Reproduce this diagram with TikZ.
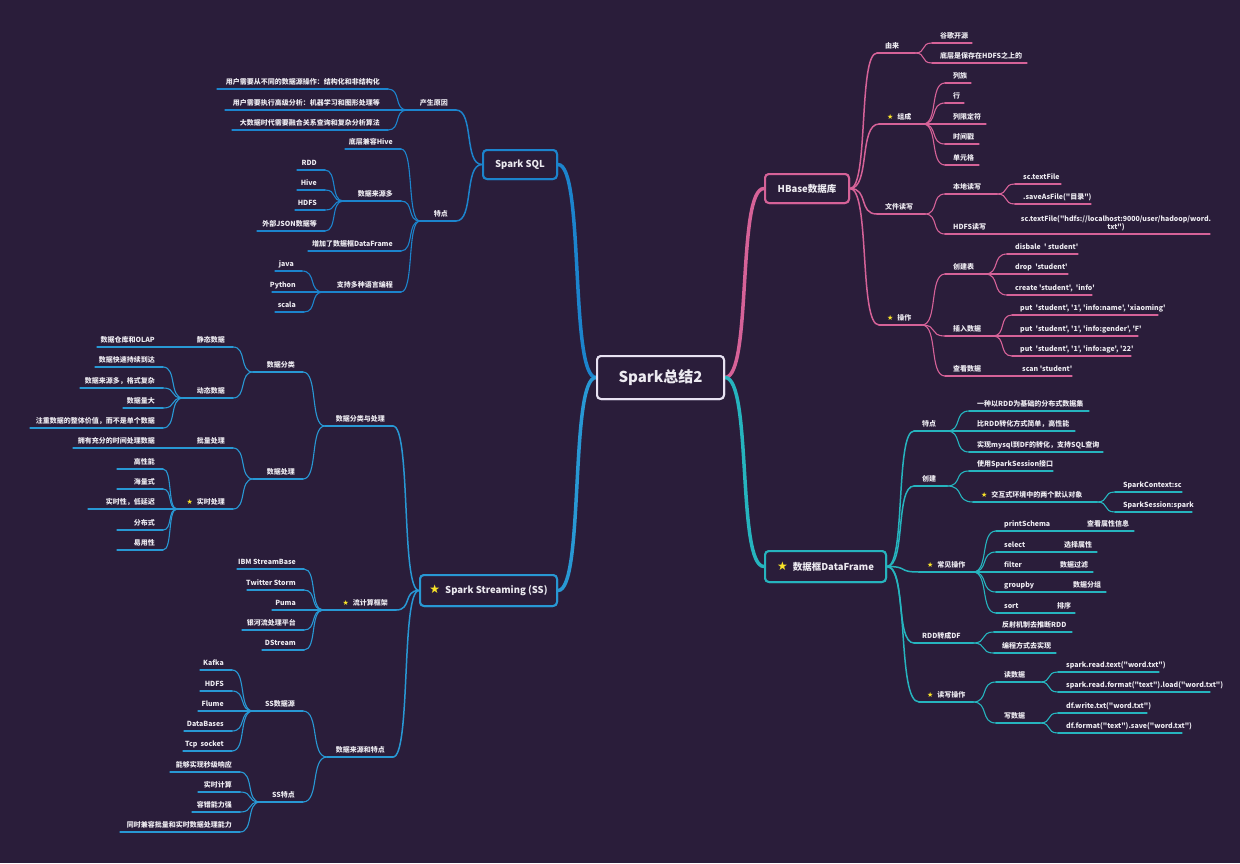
\documentclass[tikz,border=0pt]{standalone}
\usepackage{fontspec}
\setmainfont{Noto Sans CJK SC}[Ligatures=TeXOff]
\newfontfamily\symf{DejaVu Sans}
\usetikzlibrary{calc}
\definecolor{bg}{RGB}{42,29,58}
\definecolor{txt}{RGB}{236,234,240}
\definecolor{hbc}{RGB}{214,98,152}
\definecolor{sqlc}{RGB}{28,132,205}
\definecolor{ssc}{RGB}{40,152,212}
\definecolor{dfc}{RGB}{38,180,190}
\definecolor{rootc}{RGB}{232,226,242}
\definecolor{sy}{RGB}{250,228,40}
\newcommand\ystar{{\symf\textcolor{sy}{★}}\hspace{4pt}}
\newcommand\bstar{{\symf\fontsize{12}{12}\selectfont\textcolor{sy}{★}}\hspace{5pt}}
\newcommand\RT[6]{\coordinate (#1-a) at (#3,#2);\coordinate (#1-b) at (#4,#2);\draw[#5] (#1-a)--(#1-b);\node[lbl,anchor=base west] (#1) at (#3+8,#2-4.5) {#6};}
\newcommand\LT[6]{\coordinate (#1-a) at (#3,#2);\coordinate (#1-b) at (#4,#2);\draw[#5] (#1-a)--(#1-b);\node[lbl,anchor=base east] (#1) at (#4-8,#2-4.5) {#6};}
\newcommand\cn[3]{\draw[#3] (#1) to[hc] (#2);}
\tikzset{
 lbl/.style={text=txt,font=\fontsize{7}{8.5}\selectfont\bfseries,inner sep=0pt},
 hc/.style={to path={let \p1=(\tikztostart),\p2=(\tikztotarget) in .. controls (0.3*\x1+0.7*\x2,\y1) and (0.7*\x1+0.3*\x2,\y2) .. (\tikztotarget)}},
 l0/.style={line width=3.5pt,line cap=round},
 l1/.style={line width=1.5pt,line cap=round},
 l2/.style={line width=1.1pt,line cap=round},
 hb/.style={draw=hbc},
 sq/.style={draw=sqlc},
 ss/.style={draw=ssc},
 df/.style={draw=dfc},
 box/.style={line width=2pt,rounded corners=4pt,fill=bg,text=txt,inner sep=0pt,font=\fontsize{9.5}{11}\selectfont\bfseries},
}
\begin{document}
\begin{tikzpicture}[x=1pt,y=-1pt]
\fill[bg] (0,0) rectangle (1240,863);
\useasboundingbox (0,0) rectangle (1240,863);
% ---- main nodes (placed first for names, drawn over later)
\path (660.5,377.5) node[box,draw=rootc,minimum width=127pt,minimum height=43pt,font=\fontsize{15}{17}\selectfont\bfseries] (root) {Spark总结2};
\path (807,188.5) node[box,draw=hbc,minimum width=84pt,minimum height=29pt] (hbase) {HBase数据库};
\path (520,164.5) node[box,draw=sqlc,minimum width=74pt,minimum height=29pt] (sql) {Spark SQL};
\path (825.5,566.5) node[box,draw=dfc,minimum width=121pt,minimum height=31pt] (df) {\bstar 数据框DataFrame};
\path (488.5,590.5) node[box,draw=ssc,minimum width=137pt,minimum height=31pt] (ss) {\bstar Spark Streaming (SS)};
% ---- main connectors
\cn{root.west}{sql.east}{sq,l0}
\cn{root.west}{ss.east}{ss,l0}
\cn{root.east}{hbase.west}{hb,l0}
\cn{root.east}{df.west}{df,l0}
% ================= HBase
\RT{yl}{53}{877}{915}{hb,l1}{由来}
\RT{zc}{124}{879}{923}{hb,l1}{\ystar 组成}
\RT{wj}{214}{877}{925}{hb,l1}{文件读写}
\RT{cz}{325}{879}{922}{hb,l1}{\ystar 操作}
\cn{hbase.east}{yl-a}{hb,l1}\cn{hbase.east}{zc-a}{hb,l1}\cn{hbase.east}{wj-a}{hb,l1}\cn{hbase.east}{cz-a}{hb,l1}
\RT{yl1}{43}{932}{972}{hb,l2}{谷歌开源}
\RT{yl2}{63}{932}{1027}{hb,l2}{底层是保存在HDFS之上的}
\cn{yl-b}{yl1-a}{hb,l2}\cn{yl-b}{yl2-a}{hb,l2}
\RT{zc1}{83}{945}{971}{hb,l2}{列族}
\RT{zc2}{103}{945}{964}{hb,l2}{行}
\RT{zc3}{124}{945}{986}{hb,l2}{列限定符}
\RT{zc4}{144}{945}{979}{hb,l2}{时间戳}
\RT{zc5}{165}{945}{979}{hb,l2}{单元格}
\cn{zc-b}{zc1-a}{hb,l2}\cn{zc-b}{zc2-a}{hb,l2}\cn{zc-b}{zc3-a}{hb,l2}\cn{zc-b}{zc4-a}{hb,l2}\cn{zc-b}{zc5-a}{hb,l2}
\RT{wj1}{194}{945}{997}{hb,l2}{本地读写}
\RT{wj2}{234}{945}{1005}{hb,l2}{HDFS读写}
\cn{wj-b}{wj1-a}{hb,l2}\cn{wj-b}{wj2-a}{hb,l2}
\RT{wj11}{184}{1015}{1061}{hb,l2}{sc.textFile}
\RT{wj12}{204}{1015}{1091}{hb,l2}{.saveAsFile("目录")}
\cn{wj1-b}{wj11-a}{hb,l2}\cn{wj1-b}{wj12-a}{hb,l2}
\coordinate (wj21-a) at (1012,234);\coordinate (wj21-b) at (1210,234);
\draw[hb,l2] (wj21-a)--(wj21-b);
\node[lbl,align=center,anchor=south] (wj21) at (1116,231.5) {sc.textFile("hdfs://localhost:9000/user/hadoop/word.\\txt")};
\cn{wj2-b}{wj21-a}{hb,l2}
\RT{cz1}{274}{945}{985}{hb,l2}{创建表}
\RT{cz2}{336}{945}{993}{hb,l2}{插入数据}
\RT{cz3}{376}{945}{1005}{hb,l2}{查看数据}
\cn{cz-b}{cz1-a}{hb,l2}\cn{cz-b}{cz2-a}{hb,l2}\cn{cz-b}{cz3-a}{hb,l2}
\RT{cz11}{254}{1007}{1078}{hb,l2}{disbale\ \ ' student'}
\RT{cz12}{274}{1007}{1068}{hb,l2}{drop\ \ 'student'}
\RT{cz13}{295}{1007}{1092}{hb,l2}{create 'student',\ \ 'info'}
\cn{cz1-b}{cz11-a}{hb,l2}\cn{cz1-b}{cz12-a}{hb,l2}\cn{cz1-b}{cz13-a}{hb,l2}
\RT{cz21}{315}{1012}{1158}{hb,l2}{put\ \ 'student', '1', 'info:name', 'xiaoming'}
\RT{cz22}{336}{1012}{1138}{hb,l2}{put\ \ 'student', '1', 'info:gender', 'F'}
\RT{cz23}{356}{1012}{1131}{hb,l2}{put\ \ 'student', '1', 'info:age', '22'}
\cn{cz2-b}{cz21-a}{hb,l2}\cn{cz2-b}{cz22-a}{hb,l2}\cn{cz2-b}{cz23-a}{hb,l2}
\RT{cz31}{376}{1014}{1072}{hb,l2}{scan 'student'}
\cn{cz3-b}{cz31-a}{hb,l2}
% ================= DataFrame
\RT{tz}{431}{914}{947}{df,l1}{特点}
\RT{cj}{486}{914}{947}{df,l1}{创建}
\RT{cy}{572}{919}{973}{df,l1}{\ystar 常见操作}
\RT{rdd}{643}{914}{973}{df,l1}{RDD转成DF}
\RT{dx}{702}{919}{973}{df,l1}{\ystar 读写操作}
\cn{df.east}{tz-a}{df,l1}\cn{df.east}{cj-a}{df,l1}\cn{df.east}{cy-a}{df,l1}\cn{df.east}{rdd-a}{df,l1}\cn{df.east}{dx-a}{df,l1}
\RT{tz1}{411}{969}{1089}{df,l2}{一种以RDD为基础的分布式数据集}
\RT{tz2}{431}{969}{1075}{df,l2}{比RDD转化方式简单，高性能}
\RT{tz3}{452}{969}{1103}{df,l2}{实现mysql到DF的转化，支持SQL查询}
\cn{tz-b}{tz1-a}{df,l2}\cn{tz-b}{tz2-a}{df,l2}\cn{tz-b}{tz3-a}{df,l2}
\RT{cj1}{471}{969}{1053}{df,l2}{使用SparkSession接口}
\RT{cj2}{502}{973}{1097}{df,l2}{\ystar 交互式环境中的两个默认对象}
\cn{cj-b}{cj1-a}{df,l2}\cn{cj-b}{cj2-a}{df,l2}
\RT{cj21}{492}{1115}{1182}{df,l2}{SparkContext:sc}
\RT{cj22}{512}{1115}{1192}{df,l2}{SparkSession:spark}
\cn{cj2-b}{cj21-a}{df,l2}\cn{cj2-b}{cj22-a}{df,l2}
\RT{cy1}{531}{996}{1134}{df,l2}{printSchema}
\RT{cy2}{552}{996}{1097}{df,l2}{select}
\RT{cy3}{572}{996}{1093}{df,l2}{filter}
\RT{cy4}{592}{996}{1106}{df,l2}{groupby}
\RT{cy5}{613}{996}{1075}{df,l2}{sort}
\node[lbl,anchor=base west] (cy1x) at (1087,526.5) {查看属性信息};
\node[lbl,anchor=base west] (cy2x) at (1064,547.5) {选择属性};
\node[lbl,anchor=base west] (cy3x) at (1060,567.5) {数据过滤};
\node[lbl,anchor=base west] (cy4x) at (1073,587.5) {数据分组};
\node[lbl,anchor=base west] (cy5x) at (1057,608.5) {排序};
\cn{cy-b}{cy1-a}{df,l2}\cn{cy-b}{cy2-a}{df,l2}\cn{cy-b}{cy3-a}{df,l2}\cn{cy-b}{cy4-a}{df,l2}\cn{cy-b}{cy5-a}{df,l2}
\RT{rdd1}{632}{994}{1072}{df,l2}{反射机制去推断RDD}
\RT{rdd2}{653}{994}{1056}{df,l2}{编程方式去实现}
\cn{rdd-b}{rdd1-a}{df,l2}\cn{rdd-b}{rdd2-a}{df,l2}
\RT{dx1}{682}{996}{1040}{df,l2}{读数据}
\RT{dx2}{723}{996}{1040}{df,l2}{写数据}
\cn{dx-b}{dx1-a}{df,l2}\cn{dx-b}{dx2-a}{df,l2}
\RT{dx11}{672}{1058}{1159}{df,l2}{spark.read.text("word.txt")}
\RT{dx12}{692}{1058}{1210}{df,l2}{spark.read.format("text").load("word.txt")}
\cn{dx1-b}{dx11-a}{df,l2}\cn{dx1-b}{dx12-a}{df,l2}
\RT{dx21}{713}{1058}{1147}{df,l2}{df.write.txt("word.txt")}
\RT{dx22}{733}{1058}{1182}{df,l2}{df.format("text").save("word.txt")}
\cn{dx2-b}{dx21-a}{df,l2}\cn{dx2-b}{dx22-a}{df,l2}
% ================= Spark SQL
\LT{yy}{110}{407}{456}{sq,l1}{产生原因}
\LT{td}{221}{420}{456}{sq,l1}{特点}
\cn{sql.west}{yy-b}{sq,l1}\cn{sql.west}{td-b}{sq,l1}
\LT{yy1}{89}{217}{388}{sq,l2}{用户需要从不同的数据源操作：结构化和非结构化}
\LT{yy2}{110}{225}{388}{sq,l2}{用户需要执行高级分析：机器学习和图形处理等}
\LT{yy3}{130}{232}{388}{sq,l2}{大数据时代需要融合关系查询和复杂分析算法}
\cn{yy-a}{yy1-b}{sq,l2}\cn{yy-a}{yy2-b}{sq,l2}\cn{yy-a}{yy3-b}{sq,l2}
\LT{td1}{149}{345}{401}{sq,l2}{底层兼容Hive}
\LT{td2}{201}{343}{401}{sq,l2}{数据来源多}
\LT{td3}{251}{308}{401}{sq,l2}{增加了数据框DataFrame}
\LT{td4}{292}{323}{401}{sq,l2}{支持多种语言编程}
\cn{td-a}{td1-b}{sq,l2}\cn{td-a}{td2-b}{sq,l2}\cn{td-a}{td3-b}{sq,l2}\cn{td-a}{td4-b}{sq,l2}
\LT{td21}{170}{297}{325}{sq,l2}{RDD}
\LT{td22}{190}{297}{325}{sq,l2}{Hive}
\LT{td23}{210}{295}{325}{sq,l2}{HDFS}
\LT{td24}{231}{257}{325}{sq,l2}{外部JSON数据等}
\cn{td2-a}{td21-b}{sq,l2}\cn{td2-a}{td22-b}{sq,l2}\cn{td2-a}{td23-b}{sq,l2}\cn{td2-a}{td24-b}{sq,l2}
\LT{td41}{271}{275}{302}{sq,l2}{java}
\LT{td42}{292}{272}{304}{sq,l2}{Python}
\LT{td43}{312}{275}{304}{sq,l2}{scala}
\cn{td4-a}{td41-b}{sq,l2}\cn{td4-a}{td42-b}{sq,l2}\cn{td4-a}{td43-b}{sq,l2}
% ================= Spark Streaming
\LT{fl}{426}{325}{393}{ss,l1}{数据分类与处理}
\LT{lj}{610}{323}{396}{ss,l1}{\ystar 流计算框架}
\LT{ly}{757}{327}{393}{ss,l1}{数据来源和特点}
\cn{ss.west}{fl-b}{ss,l1}\cn{ss.west}{lj-b}{ss,l1}\cn{ss.west}{ly-b}{ss,l1}
\LT{fl1}{372}{253}{303}{ss,l2}{数据分类}
\LT{fl2}{479}{253}{303}{ss,l2}{数据处理}
\cn{fl-a}{fl1-b}{ss,l2}\cn{fl-a}{fl2-b}{ss,l2}
\LT{fl11}{347}{165}{233}{ss,l2}{静态数据}
\LT{fl12}{398}{183}{233}{ss,l2}{动态数据}
\cn{fl1-a}{fl11-b}{ss,l2}\cn{fl1-a}{fl12-b}{ss,l2}
\LT{fl111}{347}{97}{163}{ss,l2}{数据仓库和OLAP}
\cn{fl11-a}{fl111-b}{ss,l2}
\LT{fl121}{367}{95}{163}{ss,l2}{数据快速持续到达}
\LT{fl122}{388}{80}{163}{ss,l2}{数据来源多，格式复杂}
\LT{fl123}{408}{123}{163}{ss,l2}{数据量大}
\LT{fl124}{428}{30}{163}{ss,l2}{注重数据的整体价值，而不是单个数据}
\cn{fl12-a}{fl121-b}{ss,l2}\cn{fl12-a}{fl122-b}{ss,l2}\cn{fl12-a}{fl123-b}{ss,l2}\cn{fl12-a}{fl124-b}{ss,l2}
\LT{fl21}{448}{165}{233}{ss,l2}{批量处理}
\LT{fl22}{509}{177}{233}{ss,l2}{\ystar 实时处理}
\cn{fl2-a}{fl21-b}{ss,l2}\cn{fl2-a}{fl22-b}{ss,l2}
\LT{fl211}{448}{73}{163}{ss,l2}{拥有充分的时间处理数据}
\cn{fl21-a}{fl211-b}{ss,l2}
\LT{fl221}{469}{117}{163}{ss,l2}{高性能}
\LT{fl222}{489}{117}{163}{ss,l2}{海量式}
\LT{fl223}{509}{88}{163}{ss,l2}{实时性，低延迟}
\LT{fl224}{530}{117}{163}{ss,l2}{分布式}
\LT{fl225}{550}{117}{163}{ss,l2}{易用性}
\cn{fl22-a}{fl221-b}{ss,l2}\cn{fl22-a}{fl222-b}{ss,l2}\cn{fl22-a}{fl223-b}{ss,l2}\cn{fl22-a}{fl224-b}{ss,l2}\cn{fl22-a}{fl225-b}{ss,l2}
\LT{lj1}{569}{237}{304}{ss,l2}{IBM StreamBase}
\LT{lj2}{590}{247}{304}{ss,l2}{Twitter Storm}
\LT{lj3}{610}{272}{304}{ss,l2}{Puma}
\LT{lj4}{630}{242}{304}{ss,l2}{银河流处理平台}
\LT{lj5}{650}{262}{304}{ss,l2}{DStream}
\cn{lj-a}{lj1-b}{ss,l2}\cn{lj-a}{lj2-b}{ss,l2}\cn{lj-a}{lj3-b}{ss,l2}\cn{lj-a}{lj4-b}{ss,l2}\cn{lj-a}{lj5-b}{ss,l2}
\LT{ly1}{711}{253}{303}{ss,l2}{SS数据源}
\LT{ly2}{802}{260}{303}{ss,l2}{SS特点}
\cn{ly-a}{ly1-b}{ss,l2}\cn{ly-a}{ly2-b}{ss,l2}
\LT{ly11}{670}{200}{232}{ss,l2}{Kafka}
\LT{ly12}{691}{200}{232}{ss,l2}{HDFS}
\LT{ly13}{711}{198}{232}{ss,l2}{Flume}
\LT{ly14}{731}{184}{232}{ss,l2}{DataBases}
\LT{ly15}{751}{183}{232}{ss,l2}{Tcp\ \ socket}
\cn{ly1-a}{ly11-b}{ss,l2}\cn{ly1-a}{ly12-b}{ss,l2}\cn{ly1-a}{ly13-b}{ss,l2}\cn{ly1-a}{ly14-b}{ss,l2}\cn{ly1-a}{ly15-b}{ss,l2}
\LT{ly21}{772}{170}{240}{ss,l2}{能够实现秒级响应}
\LT{ly22}{792}{198}{240}{ss,l2}{实时计算}
\LT{ly23}{812}{192}{240}{ss,l2}{容错能力强}
\LT{ly24}{832}{120}{240}{ss,l2}{同时兼容批量和实时数据处理能力}
\cn{ly2-a}{ly21-b}{ss,l2}\cn{ly2-a}{ly22-b}{ss,l2}\cn{ly2-a}{ly23-b}{ss,l2}\cn{ly2-a}{ly24-b}{ss,l2}
% ---- redraw main boxes on top
\path (660.5,377.5) node[box,draw=rootc,minimum width=127pt,minimum height=43pt,font=\fontsize{15}{17}\selectfont\bfseries] {Spark总结2};
\path (807,188.5) node[box,draw=hbc,minimum width=84pt,minimum height=29pt] {HBase数据库};
\path (520,164.5) node[box,draw=sqlc,minimum width=74pt,minimum height=29pt] {Spark SQL};
\path (825.5,566.5) node[box,draw=dfc,minimum width=121pt,minimum height=31pt] {\bstar 数据框DataFrame};
\path (488.5,590.5) node[box,draw=ssc,minimum width=137pt,minimum height=31pt] {\bstar Spark Streaming (SS)};
\end{tikzpicture}
\end{document}
